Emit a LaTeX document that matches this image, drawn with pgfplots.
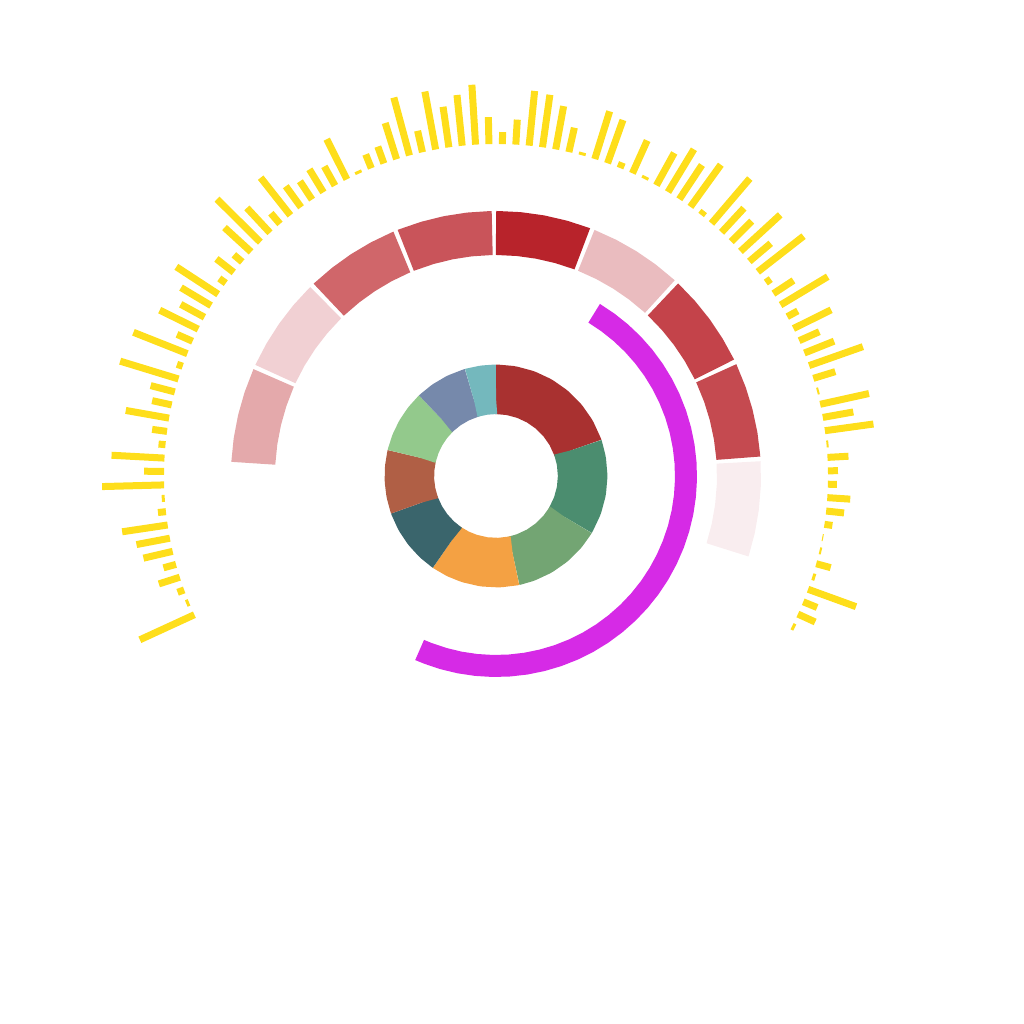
\documentclass[border=0pt]{standalone}
\usepackage{pgfplots}
\pgfplotsset{compat=1.18}
\definecolor{cYel}{HTML}{FEDE1B}
\definecolor{cMag}{HTML}{D62AE6}
\definecolor{cRa}{HTML}{B8232B}
\definecolor{cRb}{HTML}{EABCBF}
\definecolor{cRc}{HTML}{C4434A}
\definecolor{cRd}{HTML}{C54A50}
\definecolor{cRe}{HTML}{F9EDEF}
\definecolor{cRf}{HTML}{C9545A}
\definecolor{cRg}{HTML}{D0666A}
\definecolor{cRh}{HTML}{F1D0D3}
\definecolor{cRi}{HTML}{E4A9AB}
\definecolor{cDa}{HTML}{A93130}
\definecolor{cDb}{HTML}{4B8D6F}
\definecolor{cDc}{HTML}{73A573}
\definecolor{cDd}{HTML}{F4A143}
\definecolor{cDe}{HTML}{3A656C}
\definecolor{cDf}{HTML}{B05F45}
\definecolor{cDg}{HTML}{93C98C}
\definecolor{cDh}{HTML}{7689AB}
\definecolor{cDi}{HTML}{74B8BD}
\pgfplotsset{
  redring/.style={data cs=polar, line width=4.4mm, line cap=butt, line join=round},
  donutseg/.style={data cs=polar, line width=4.95mm, line cap=butt, line join=round},
  magarc/.style={data cs=polar, line width=2.2mm, line cap=butt, line join=round, draw=cMag},
  yelbar/.style={data cs=polar, line width=0.7mm, line cap=butt, draw=cYel},
}
\begin{document}
\begin{tikzpicture}
\begin{axis}[width=10.24cm, height=10.24cm, scale only axis,
  xmin=-496, xmax=528, ymin=-548, ymax=476, hide axis]
\path (rel axis cs:0,0) rectangle (rel axis cs:1,1);
% inner donut
\addplot[donutseg, draw=cDa] coordinates {(90,86.7) (89.6,86.7) (80,86.7) (70,86.7) (60,86.7) (50,86.7) (40,86.7) (30,86.7) (19.3,86.7) (18.9,86.7)};
\addplot[donutseg, draw=cDb] coordinates {(18.9,86.7) (18.5,86.7) (10,86.7) (0,86.7) (-10,86.7) (-20,86.7) (-30.4,86.7) (-30.8,86.7)};
\addplot[donutseg, draw=cDc] coordinates {(-30.8,86.7) (-31.2,86.7) (-40,86.7) (-50,86.7) (-60,86.7) (-70,86.7) (-77.5,86.7) (-77.9,86.7)};
\addplot[donutseg, draw=cDd] coordinates {(-77.9,86.7) (-78.3,86.7) (-88,86.7) (-98,86.7) (-108,86.7) (-116,86.7) (-124.1,86.7) (-124.5,86.7)};
\addplot[donutseg, draw=cDe] coordinates {(-124.5,86.7) (-124.9,86.7) (-133,86.7) (-142,86.7) (-151,86.7) (-159.9,86.7) (-160.3,86.7)};
\addplot[donutseg, draw=cDf] coordinates {(-160.3,86.7) (-160.7,86.7) (-169,86.7) (-177,86.7) (-185,86.7) (-193.1,86.7) (-193.5,86.7)};
\addplot[donutseg, draw=cDg] coordinates {(166.5,86.7) (166.1,86.7) (158,86.7) (150,86.7) (142,86.7) (134.1,86.7) (133.7,86.7)};
\addplot[donutseg, draw=cDh] coordinates {(133.7,86.7) (133.3,86.7) (125,86.7) (116,86.7) (106.6,86.7) (106.2,86.7)};
\addplot[donutseg, draw=cDi] coordinates {(106.2,86.7) (105.8,86.7) (98,86.7) (90.4,86.7) (90,86.7)};
% magenta arc
\addplot[magarc] coordinates {(58.9,190) (58.6,190) (54,190) (49,190) (44,190) (39,190) (34,190) (29,190) (24,190) (19,190) (14,190) (9,190) (4,190) (-1,190) (-6,190) (-11,190) (-16,190) (-21,190) (-26,190) (-31,190) (-36,190) (-41,190) (-46,190) (-51,190) (-56,190) (-61,190) (-66,190) (-71,190) (-76,190) (-81,190) (-86,190) (-91,190) (-96,190) (-101,190) (-106,190) (-111,190) (-113.4,190) (-113.7,190)};
% red ring
\addplot[redring, draw=cRa] coordinates {(90,243) (89.7,243) (84.6,243) (79.6,243) (74.5,243) (69.5,243) (69.2,243)};
\addplot[redring, draw=cRb] coordinates {(68.2,243) (67.9,243) (63,243) (58,243) (53,243) (47.9,243) (47.6,243)};
\addplot[redring, draw=cRc] coordinates {(46.6,243) (46.3,243) (41.3,243) (36.3,243) (31.3,243) (26.3,243) (26.0,243)};
\addplot[redring, draw=cRd] coordinates {(25.0,243) (24.7,243) (19.6,243) (14.6,243) (9.5,243) (4.5,243) (4.2,243)};
\addplot[redring, draw=cRe] coordinates {(3.2,243) (2.9,243) (-2.2,243) (-7.4,243) (-12.5,243) (-17.4,243) (-17.7,243)};
\addplot[redring, draw=cRf] coordinates {(90.9,243) (91.2,243) (96.3,243) (101.3,243) (106.4,243) (111.5,243) (111.8,243)};
\addplot[redring, draw=cRg] coordinates {(112.8,243) (113.1,243) (118.2,243) (123.2,243) (128.2,243) (133.2,243) (133.5,243)};
\addplot[redring, draw=cRh] coordinates {(134.5,243) (134.8,243) (139.9,243) (144.9,243) (150,243) (154.9,243) (155.2,243)};
\addplot[redring, draw=cRi] coordinates {(156.2,243) (156.5,243) (161.6,243) (166.7,243) (171.8,243) (176.7,243) (177,243)};
% yellow radial bars
\addplot[yelbar] coordinates {(204.70,332) (204.70,392)};
\addplot[yelbar] coordinates {(202.38,332) (202.38,335)};
\addplot[yelbar] coordinates {(200.07,332) (200.07,339)};
\addplot[yelbar] coordinates {(197.75,332) (197.75,354)};
\addplot[yelbar] coordinates {(195.44,332) (195.44,345)};
\addplot[yelbar] coordinates {(193.12,332) (193.12,362)};
\addplot[yelbar] coordinates {(190.80,332) (190.80,366)};
\addplot[yelbar] coordinates {(188.49,332) (188.49,378)};
\addplot[yelbar] coordinates {(186.17,332) (186.17,340)};
\addplot[yelbar] coordinates {(183.86,332) (183.86,335)};
\addplot[yelbar] coordinates {(181.54,332) (181.54,394)};
\addplot[yelbar] coordinates {(179.22,332) (179.22,352)};
\addplot[yelbar] coordinates {(176.91,332) (176.91,385)};
\addplot[yelbar] coordinates {(174.59,332) (174.59,339)};
\addplot[yelbar] coordinates {(172.28,332) (172.28,347)};
\addplot[yelbar] coordinates {(169.96,332) (169.96,376)};
\addplot[yelbar] coordinates {(167.64,332) (167.64,352)};
\addplot[yelbar] coordinates {(165.33,332) (165.33,357)};
\addplot[yelbar] coordinates {(163.01,332) (163.01,393)};
\addplot[yelbar] coordinates {(160.70,332) (160.70,338)};
\addplot[yelbar] coordinates {(158.38,332) (158.38,390)};
\addplot[yelbar] coordinates {(156.06,332) (156.06,349)};
\addplot[yelbar] coordinates {(153.75,332) (153.75,375)};
\addplot[yelbar] coordinates {(151.43,332) (151.43,359)};
\addplot[yelbar] coordinates {(149.12,332) (149.12,367)};
\addplot[yelbar] coordinates {(146.80,332) (146.80,382)};
\addplot[yelbar] coordinates {(144.48,332) (144.48,340)};
\addplot[yelbar] coordinates {(142.17,332) (142.17,354)};
\addplot[yelbar] coordinates {(139.85,332) (139.85,343)};
\addplot[yelbar] coordinates {(137.54,332) (137.54,368)};
\addplot[yelbar] coordinates {(135.22,332) (135.22,393)};
\addplot[yelbar] coordinates {(132.90,332) (132.90,366)};
\addplot[yelbar] coordinates {(130.59,332) (130.59,346)};
\addplot[yelbar] coordinates {(128.27,332) (128.27,380)};
\addplot[yelbar] coordinates {(125.96,332) (125.96,358)};
\addplot[yelbar] coordinates {(123.64,332) (123.64,354)};
\addplot[yelbar] coordinates {(121.32,332) (121.32,359)};
\addplot[yelbar] coordinates {(119.01,332) (119.01,354)};
\addplot[yelbar] coordinates {(116.69,332) (116.69,377)};
\addplot[yelbar] coordinates {(114.38,332) (114.38,335)};
\addplot[yelbar] coordinates {(112.06,332) (112.06,347)};
\addplot[yelbar] coordinates {(109.74,332) (109.74,350)};
\addplot[yelbar] coordinates {(107.43,332) (107.43,370)};
\addplot[yelbar] coordinates {(105.11,332) (105.11,392)};
\addplot[yelbar] coordinates {(102.80,332) (102.80,354)};
\addplot[yelbar] coordinates {(100.48,332) (100.48,391)};
\addplot[yelbar] coordinates {(98.16,332) (98.16,373)};
\addplot[yelbar] coordinates {(95.85,332) (95.85,383)};
\addplot[yelbar] coordinates {(93.53,332) (93.53,392)};
\addplot[yelbar] coordinates {(91.22,332) (91.22,359)};
\addplot[yelbar] coordinates {(88.90,332) (88.90,344)};
\addplot[yelbar] coordinates {(86.58,332) (86.58,357)};
\addplot[yelbar] coordinates {(84.27,332) (84.27,387)};
\addplot[yelbar] coordinates {(81.95,332) (81.95,385)};
\addplot[yelbar] coordinates {(79.64,332) (79.64,376)};
\addplot[yelbar] coordinates {(77.32,332) (77.32,357)};
\addplot[yelbar] coordinates {(75.00,332) (75.00,335)};
\addplot[yelbar] coordinates {(72.69,332) (72.69,382)};
\addplot[yelbar] coordinates {(70.37,332) (70.37,378)};
\addplot[yelbar] coordinates {(68.06,332) (68.06,338)};
\addplot[yelbar] coordinates {(65.74,332) (65.74,368)};
\addplot[yelbar] coordinates {(63.42,332) (63.42,335)};
\addplot[yelbar] coordinates {(61.11,332) (61.11,369)};
\addplot[yelbar] coordinates {(58.79,332) (58.79,382)};
\addplot[yelbar] coordinates {(56.48,332) (56.48,373)};
\addplot[yelbar] coordinates {(54.16,332) (54.16,384)};
\addplot[yelbar] coordinates {(51.84,332) (51.84,337)};
\addplot[yelbar] coordinates {(49.53,332) (49.53,391)};
\addplot[yelbar] coordinates {(47.21,332) (47.21,365)};
\addplot[yelbar] coordinates {(44.90,332) (44.90,361)};
\addplot[yelbar] coordinates {(42.58,332) (42.58,386)};
\addplot[yelbar] coordinates {(40.26,332) (40.26,360)};
\addplot[yelbar] coordinates {(37.95,332) (37.95,390)};
\addplot[yelbar] coordinates {(35.63,332) (35.63,338)};
\addplot[yelbar] coordinates {(33.32,332) (33.32,356)};
\addplot[yelbar] coordinates {(31.00,332) (31.00,387)};
\addplot[yelbar] coordinates {(28.68,332) (28.68,344)};
\addplot[yelbar] coordinates {(26.37,332) (26.37,374)};
\addplot[yelbar] coordinates {(24.05,332) (24.05,354)};
\addplot[yelbar] coordinates {(21.74,332) (21.74,364)};
\addplot[yelbar] coordinates {(19.42,332) (19.42,389)};
\addplot[yelbar] coordinates {(17.10,332) (17.10,355)};
\addplot[yelbar] coordinates {(14.79,332) (14.79,334)};
\addplot[yelbar] coordinates {(12.47,332) (12.47,382)};
\addplot[yelbar] coordinates {(10.16,332) (10.16,363)};
\addplot[yelbar] coordinates {(7.84,332) (7.84,381)};
\addplot[yelbar] coordinates {(5.52,332) (5.52,334)};
\addplot[yelbar] coordinates {(3.21,332) (3.21,353)};
\addplot[yelbar] coordinates {(0.89,332) (0.89,342)};
\addplot[yelbar] coordinates {(-1.42,332) (-1.42,341)};
\addplot[yelbar] coordinates {(-3.74,332) (-3.74,355)};
\addplot[yelbar] coordinates {(-6.06,332) (-6.06,350)};
\addplot[yelbar] coordinates {(-8.37,332) (-8.37,340)};
\addplot[yelbar] coordinates {(-10.69,332) (-10.69,333)};
\addplot[yelbar] coordinates {(-13.00,332) (-13.00,334)};
\addplot[yelbar] coordinates {(-15.32,332) (-15.32,347)};
\addplot[yelbar] coordinates {(-17.64,332) (-17.64,335)};
\addplot[yelbar] coordinates {(-19.95,332) (-19.95,383)};
\addplot[yelbar] coordinates {(-22.27,332) (-22.27,347)};
\addplot[yelbar] coordinates {(-24.58,332) (-24.58,351)};
\addplot[yelbar] coordinates {(-26.90,332) (-26.90,335)};
\end{axis}
\end{tikzpicture}
\end{document}
